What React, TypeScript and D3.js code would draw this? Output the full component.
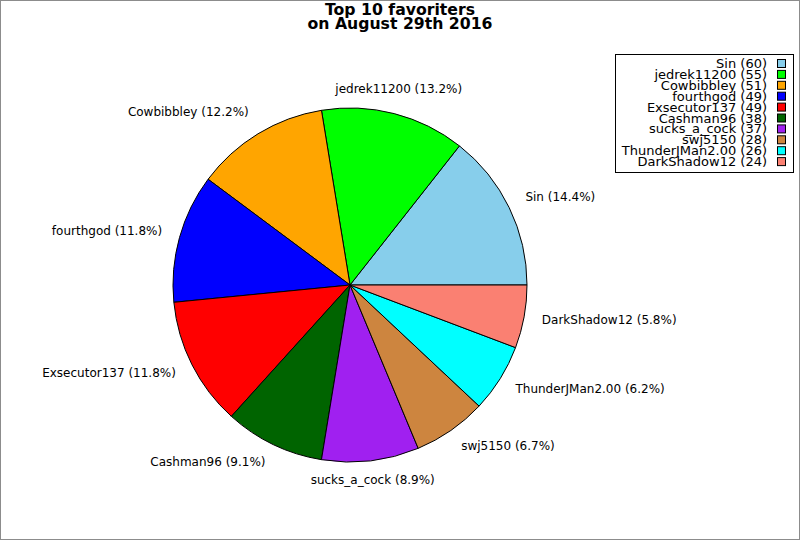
// @ts-nocheck
import React, { useRef, useEffect } from 'react';
import * as d3 from 'd3';

const names = ['Sin', 'jedrek11200', 'Cowbibbley', 'fourthgod', 'Exsecutor137', 'Cashman96', 'sucks_a_cock', 'swj5150', 'ThunderJMan2.00', 'DarkShadow12'];
const counts = [60, 55, 51, 49, 49, 38, 37, 28, 26, 24];
const colors = ['#87ceeb', '#00ff00', '#ffa500', '#0000ff', '#ff0000', '#006400', '#a020f0', '#cd853f', '#00ffff', '#fa8072'];
const titleLines = ['Top 10 favoriters', 'on August 29th 2016'];

const W = 800;
const H = 540;

const App = () => {
  const svgRef = useRef(null);

  useEffect(() => {
    document.body.style.margin = '0';
    const svg = d3.select(svgRef.current);
    svg.selectAll('*').remove();

    const cx = 350, cy = 285, r = 177;
    const total = d3.sum(counts);
    const items = names.map((n, i) => ({ name: n, value: counts[i], color: colors[i] }));

    // counter-clockwise from 3 o'clock
    const pie = d3.pie()
      .value(d => d.value)
      .sort(null)
      .startAngle(Math.PI / 2)
      .endAngle(Math.PI / 2 - 2 * Math.PI);
    const arc = d3.arc().innerRadius(0).outerRadius(r);
    const arcs = pie(items);

    svg.append('rect')
      .attr('x', 0.5).attr('y', 0.5)
      .attr('width', W - 1).attr('height', H - 1)
      .attr('fill', '#fff').attr('stroke', '#8c8c8c');

    const g = svg.append('g').attr('transform', `translate(${cx},${cy})`);
    g.selectAll('path')
      .data(arcs)
      .enter().append('path')
      .attr('d', arc)
      .attr('fill', d => d.data.color)
      .attr('stroke', '#000')
      .attr('stroke-width', 1);

    g.selectAll('text.lbl')
      .data(arcs)
      .enter().append('text')
      .attr('class', 'lbl')
      .each(function (d) {
        const a = (d.startAngle + d.endAngle) / 2;
        const sx = Math.sin(a), cy2 = Math.cos(a);
        const anchor = Math.abs(sx) < 0.3 ? 'middle' : (sx > 0 ? 'start' : 'end');
        d3.select(this)
          .attr('x', sx * 195)
          .attr('y', -cy2 * (cy2 > 0 ? 203 : 196))
          .attr('dy', '0.35em')
          .attr('text-anchor', anchor);
      })
      .attr('font-family', 'DejaVu Sans')
      .attr('font-size', 12)
      .attr('fill', '#000')
      .text(d => `${d.data.name} (${d3.format('.1f')(d.data.value / total * 100)}%)`);

    svg.append('g').selectAll('text')
      .data(titleLines)
      .enter().append('text')
      .attr('x', 400)
      .attr('y', (d, i) => 15 + i * 14)
      .attr('text-anchor', 'middle')
      .attr('font-family', 'DejaVu Sans')
      .attr('font-weight', 'bold')
      .attr('font-size', 15.7)
      .text(d => d);

    // legend
    const lg = svg.append('g');
    lg.append('rect')
      .attr('x', 615.5).attr('y', 54.5)
      .attr('width', 178).attr('height', 118)
      .attr('fill', '#fff').attr('stroke', '#000');
    const rows = lg.selectAll('g.row')
      .data(items)
      .enter().append('g')
      .attr('class', 'row')
      .attr('transform', (d, i) => `translate(0,${64 + i * 10.9})`);
    rows.append('text')
      .attr('x', 767)
      .attr('y', 4)
      .attr('text-anchor', 'end')
      .attr('font-family', 'DejaVu Sans')
      .attr('font-size', 13)
      .text(d => `${d.name} (${d.value})`);
    rows.append('rect')
      .attr('x', 777.5).attr('y', -4.5)
      .attr('width', 8).attr('height', 8)
      .attr('fill', d => d.color)
      .attr('stroke', '#000');
  }, []);

  return <svg ref={svgRef} width={W} height={H} style={{ display: 'block' }}></svg>;
};

export default App;
